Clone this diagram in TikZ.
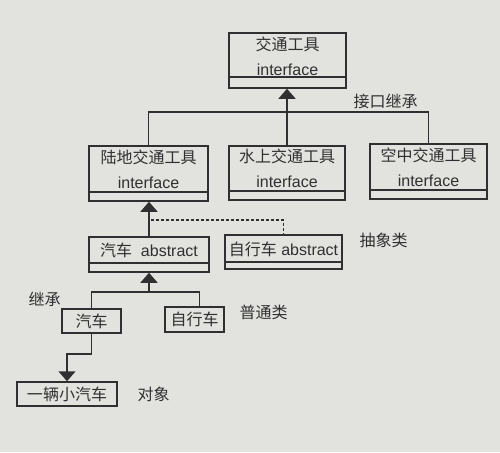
\documentclass[tikz,border=0pt]{standalone}
\usepackage{fontspec}
\setmainfont{Liberation Sans}
\newfontfamily\cjk{Noto Sans CJK SC}
\usepackage{tikz}
\usetikzlibrary{positioning,arrows.meta}

\definecolor{paper}{RGB}{226,226,223}
\definecolor{ink}{RGB}{48,48,48}

\begin{document}
\begin{tikzpicture}[
    x=1pt, y=-1pt,
    classbox/.style={draw=ink, line width=1.5pt, inner sep=0pt, text=ink,
        font=\fontsize{16}{25}\selectfont, align=center,
        path picture={\draw[draw=ink, line width=1.5pt]
            ([yshift=#1]path picture bounding box.south west) --
            ([yshift=#1]path picture bounding box.south east);}},
    plainbox/.style={draw=ink, line width=1.5pt, inner sep=0pt, text=ink,
        font=\fontsize{16}{20}\selectfont\cjk},
    tag/.style={text=ink, font=\fontsize{16}{20}\selectfont\cjk},
    link/.style={draw=ink, line width=1.5pt},
    inherit/.style={link, -{Triangle[width=17pt,length=10pt]}}
    ]
        \fill[paper] (0,0) rectangle (500,452);
        \useasboundingbox (0,0) rectangle (500,452);

        %Nodes
        \node[classbox=11pt, minimum width=117pt, minimum height=55pt, text depth=9pt]
            (iVeh)   at (287.5,60.5)  {{\cjk 交通工具}\\interface};
        \node[classbox=9pt, minimum width=119pt, minimum height=55pt, text depth=9pt]
            (iLand)  at (148.5,173.5) {{\cjk 陆地交通工具}\\interface};
        \node[classbox=9pt, minimum width=116pt, minimum height=54pt, text depth=9pt]
            (iWater) at (287,173)     {{\cjk 水上交通工具}\\interface};
        \node[classbox=9pt, minimum width=117pt, minimum height=55pt, text depth=9pt]
            (iAir)   at (428.5,171.5) {{\cjk 空中交通工具}\\interface};
        \node[classbox=9pt, minimum width=120pt, minimum height=35pt, text depth=9pt]
            (aCar)   at (149,254.5)   {{\cjk 汽车}\ \ abstract};
        \node[classbox=7pt, minimum width=117pt, minimum height=34pt, text depth=7pt]
            (aBike)  at (283.5,252)   {{\cjk 自行车} abstract};
        \node[plainbox, minimum width=59pt, minimum height=24pt]
            (cCar)   at (91.5,321)    {汽车};
        \node[plainbox, minimum width=59pt, minimum height=25pt]
            (cBike)  at (194.5,319.5) {自行车};
        \node[plainbox, minimum width=100pt, minimum height=24pt]
            (oCar)   at (67,394)      {一辆小汽车};

        %Labels
        \node[tag] (tIface)    at (385.5,101) {接口继承};
        \node[tag] (tAbstract) at (383.5,240) {抽象类};
        \node[tag] (tInherit)  at (44.5,299)  {继承};
        \node[tag] (tPlain)    at (263.5,312) {普通类};
        \node[tag] (tObject)   at (153.5,394) {对象};

        %Lines
        \coordinate (hubTop) at (287.5,112);
        \coordinate (hubLow) at (149,292);
        \coordinate (dash)   at (151,220);
        \coordinate (bend)   at (67,354);

        \draw[link] (iLand.north) |- (hubTop) -| (iAir.north);
        \draw[inherit] (iWater.north) -- (iWater.north |- iVeh.south);
        \draw[inherit] (aCar.north) -- (aCar.north |- iLand.south);
        \draw[link, line width=1.2pt, dash pattern=on 3pt off 2pt] (dash) -| (aBike.north);
        \draw[link] (cCar.north) |- (hubLow) -| ([xshift=5pt]cBike.north);
        \draw[inherit] (hubLow) -- (aCar.south);
        \draw[inherit] (cCar.south) |- (bend) -- (oCar.north);
\end{tikzpicture}
\end{document}
